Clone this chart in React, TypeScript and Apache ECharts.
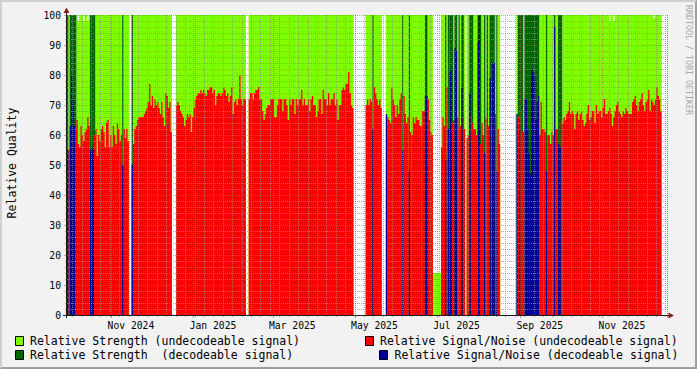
import React, { useEffect, useRef } from "react";
import * as echarts from "echarts";

const _ = null;

// one category per day, starting 2024-09-29
const DAY_COUNT = 446;
const categories: string[] = [];
{
  const t0 = Date.UTC(2024, 8, 29);
  for (let i = 0; i < DAY_COUNT; i++) {
    categories.push(new Date(t0 + i * 86400000).toISOString().slice(0, 10));
  }
}

const MONTH_NAMES = ["Jan", "Feb", "Mar", "Apr", "May", "Jun", "Jul", "Aug", "Sep", "Oct", "Nov", "Dec"];
const LABEL_MONTHS = [1, 3, 5, 7, 9, 11];
const Y_TICKS = [0, 10, 20, 30, 40, 50, 60, 70, 80, 90, 100];

const LEGEND_LABELS = [
  "Relative Strength (undecodeable signal)",
  "Relative Signal/Noise (undecodeable signal)",
  "Relative Strength  (decodeable signal)",
  "Relative Signal/Noise (decodeable signal)",
];

// Relative Strength (undecodeable signal), per day
const strengthUndecodeable: (number | null)[] = [
  _, 100, _, _, _, _, _, 100, 98, 100,
  100, 100, 98, 100, 100, 98, 100, _, _, _,
  _, 100, 100, 100, 100, 100, 100, 100, 100, 100,
  100, 100, 100, 100, 100, 100, 100, 100, 100, 100,
  100, _, 100, 100, 100, 100, _, _, _, 100,
  100, 100, 100, 100, 100, 100, 100, 100, 100, 100,
  100, 100, 100, 100, 100, 100, 100, 100, 100, 100,
  100, 100, 100, 100, 100, 100, 100, 100, _, _,
  _, 100, 100, 100, 100, 100, 100, 100, 100, 100,
  100, 100, 100, 100, 100, 100, 100, 100, 100, 100,
  100, 100, 100, 100, 100, 100, 100, 100, 100, 100,
  100, 100, 100, 100, 100, 100, 100, 100, 100, 100,
  100, 100, 100, 100, 100, 100, 100, 100, 100, 100,
  100, 100, 100, _, _, 100, 100, 100, 100, 100,
  100, 100, 100, 100, 100, 100, 100, 100, 100, 100,
  100, 100, 100, 100, 100, 100, 100, 100, 100, 100,
  100, 100, 100, 100, 100, 100, 100, 100, 100, 100,
  100, 100, 100, 100, 100, 100, 100, 100, 100, 100,
  100, 100, 100, 100, 100, 100, 100, 100, 100, 100,
  100, 100, 100, 100, 100, 100, 100, 100, 100, 100,
  100, 100, 100, 100, 100, 100, 100, 100, 100, 100,
  100, 100, 100, _, _, _, _, _, _, _,
  _, _, 100, 100, 100, 100, 100, _, 100, 100,
  100, 100, 100, 100, _, _, _, 100, 100, 100,
  100, 100, 100, 100, 100, 100, 100, 100, 100, _,
  100, 100, 100, 100, _, 100, 100, 100, 100, 100,
  100, 100, 100, 100, 100, 100, _, _, 100, 100,
  100, 100, 14, 14, 14, 14, 14, 14, 100, 100,
  100, _, 100, _, _, _, _, 100, _, _,
  100, _, 100, _, _, 100, _, 100, 100, _,
  _, _, 100, 100, 100, _, _, _, 100, 100,
  _, 100, _, 100, _, _, _, _, 100, _,
  100, 100, _, _, _, _, _, _, _, _,
  _, _, _, _, 100, _, _, _, _, 100,
  _, _, _, _, _, _, _, _, _, _,
  _, 100, 100, 100, 100, 100, _, 100, 100, 100,
  100, 100, _, 100, 100, _, _, _, 100, 100,
  100, 100, 100, 100, 100, 100, 100, 100, 100, 100,
  100, 100, 100, 100, 100, 100, 100, 100, 100, 100,
  100, 100, 100, 100, 100, 100, 100, 100, 100, 100,
  100, 100, 100, 98, 100, 100, 98, 100, 100, 100,
  100, 100, 100, 100, 100, 100, 100, 100, 100, 100,
  100, 100, 100, 100, 100, 100, 100, 100, 100, 100,
  100, 100, 100, 100, 100, 100, 99, 100, 100, 100,
  100, 100, _, _, _, _,
];

// Relative Strength (decodeable signal), per day
const strengthDecodeable: (number | null)[] = [
  100, _, 100, 100, 100, 100, 100, _, _, _,
  _, _, _, _, _, _, _, 100, 100, 100,
  100, _, _, _, _, _, _, _, _, _,
  _, _, _, _, _, _, _, _, _, _,
  _, 100, _, _, _, _, _, _, 100, _,
  _, _, _, _, _, _, _, _, _, _,
  _, _, _, _, _, _, _, _, _, _,
  _, _, _, _, _, _, _, _, _, _,
  _, _, _, _, _, _, _, _, _, _,
  _, _, _, _, _, _, _, _, _, _,
  _, _, _, _, _, _, _, _, _, _,
  _, _, _, _, _, _, _, _, _, _,
  _, _, _, _, _, _, _, _, _, _,
  _, _, _, _, _, _, _, _, _, _,
  _, _, _, _, _, _, _, _, _, _,
  _, _, _, _, _, _, _, _, _, _,
  _, _, _, _, _, _, _, _, _, _,
  _, _, _, _, _, _, _, _, _, _,
  _, _, _, _, _, _, _, _, _, _,
  _, _, _, _, _, _, _, _, _, _,
  _, _, _, _, _, _, _, _, _, _,
  _, _, _, _, _, _, _, _, _, _,
  _, _, _, _, _, _, _, 100, _, _,
  _, _, _, _, _, _, _, _, _, _,
  _, _, _, _, _, _, _, _, _, 100,
  _, _, _, _, 100, _, _, _, _, _,
  _, _, _, _, _, _, 100, 100, _, _,
  _, _, _, _, _, _, _, _, _, _,
  _, 100, _, 100, 100, 100, 100, _, 100, 100,
  _, 100, _, 100, 100, _, _, _, _, 100,
  100, 100, _, _, _, 100, 100, 100, _, _,
  100, _, 100, _, 100, 100, 100, 100, _, 100,
  _, _, _, _, _, _, _, _, _, _,
  _, _, _, _, _, 100, 100, 100, 100, _,
  100, 100, 100, 100, 100, 100, 100, 100, 100, 100,
  100, _, _, _, _, _, 100, _, _, _,
  _, _, 100, _, _, 100, 100, 100, _, _,
  _, _, _, _, _, _, _, _, _, _,
  _, _, _, _, _, _, _, _, _, _,
  _, _, _, _, _, _, _, _, _, _,
  _, _, _, _, _, _, _, _, _, _,
  _, _, _, _, _, _, _, _, _, _,
  _, _, _, _, _, _, _, _, _, _,
  _, _, _, _, _, _, _, _, _, _,
  _, _, _, _, _, _,
];

// Relative Signal/Noise (undecodeable signal), per day
const snrUndecodeable: (number | null)[] = [
  _, 55, _, _, _, _, 62, 65, 57, 56,
  63, 60, 58, 61, 62, 66, 63, _, _, _,
  60, 62, 53, 60, 58, 62, 63, 61, 56, 64,
  65, 56, 60, 56, 63, 60, 57, 64, 62, 58,
  60, _, 62, 59, 62, 58, _, _, _, 57,
  62, 63, 65, 66, 66, 66, 66, 67, 68, 69,
  71, 77, 70, 73, 69, 72, 70, 71, 69, 67,
  71, 66, 63, 74, 73, 69, 71, 61, _, _,
  _, 70, 71, 70, 68, 67, 66, 63, 65, 67,
  66, 67, 61, 66, 69, 72, 73, 74, 74, 75,
  74, 75, 74, 73, 75, 75, 76, 76, 74, 75,
  70, 73, 74, 74, 73, 74, 76, 75, 73, 74,
  71, 73, 76, 67, 71, 72, 70, 72, 80, 72,
  70, 72, 72, _, _, 72, 74, 74, 72, 74,
  75, 75, 76, 72, 72, 68, 65, 67, 69, 70,
  70, 72, 72, 72, 66, 66, 70, 72, 72, 72,
  68, 72, 72, 70, 65, 72, 70, 72, 72, 67,
  72, 70, 72, 72, 75, 70, 72, 70, 70, 72,
  68, 72, 73, 70, 70, 66, 68, 72, 72, 67,
  75, 72, 72, 70, 74, 70, 72, 72, 74, 70,
  72, 65, 70, 70, 75, 76, 75, 77, 77, 81,
  74, 70, 69, _, _, _, _, _, _, _,
  _, _, 70, 72, 70, 72, 71, _, 76, 74,
  72, 70, 72, 69, _, _, _, _, 66, 65,
  64, 76, 72, 70, 66, 70, 67, 72, 74, _,
  73, 67, 64, 66, _, 61, 60, 66, 64, 66,
  65, 65, 63, 63, 68, 68, _, _, 72, 65,
  61, 60, _, _, _, _, _, _, 56, 66,
  63, _, 76, _, _, _, 64, 65, _, _,
  66, 62, 63, _, 66, 62, _, 59, 60, _,
  67, 64, 62, 62, 60, _, _, 57, 64, 60,
  _, 66, 62, 63, _, 66, _, _, 67, _,
  62, 57, _, _, _, _, _, _, _, _,
  _, _, _, _, _, 66, _, 62, 61, 61,
  _, _, _, _, _, _, _, _, _, _,
  _, 60, 71, 62, 62, 61, _, 60, 60, 57,
  61, 60, _, 62, 62, _, _, 65, 64, 66,
  65, 67, 68, 71, 67, 68, 67, 62, 67, 68,
  65, 67, 68, 65, 63, 64, 67, 70, 65, 66,
  68, 68, 64, 70, 67, 68, 68, 66, 69, 72,
  67, 67, 68, 69, 67, 63, 66, 68, 70, 71,
  68, 67, 66, 68, 67, 69, 68, 67, 67, 67,
  71, 72, 73, 70, 68, 71, 72, 74, 70, 68,
  71, 72, 75, 68, 72, 71, 70, 72, 76, 73,
  72, 68, _, _, _, _,
];

// Relative Signal/Noise (decodeable signal), per day
const snrDecodeable: (number | null)[] = [
  55, _, 63, 80, 72, 63, _, _, _, _,
  _, _, _, _, _, _, _, 55, 56, 55,
  _, _, _, _, _, _, _, _, _, _,
  _, _, _, _, _, _, _, _, _, _,
  _, 50, _, _, _, _, _, _, 50, _,
  _, _, _, _, _, _, _, _, _, _,
  _, _, _, _, _, _, _, _, _, _,
  _, _, _, _, _, _, _, _, _, _,
  _, _, _, _, _, _, _, _, _, _,
  _, _, _, _, _, _, _, _, _, _,
  _, _, _, _, _, _, _, _, _, _,
  _, _, _, _, _, _, _, _, _, _,
  _, _, _, _, _, _, _, _, _, _,
  _, _, _, _, _, _, _, _, _, _,
  _, _, _, _, _, _, _, _, _, _,
  _, _, _, _, _, _, _, _, _, _,
  _, _, _, _, _, _, _, _, _, _,
  _, _, _, _, _, _, _, _, _, _,
  _, _, _, _, _, _, _, _, _, _,
  _, _, _, _, _, _, _, _, _, _,
  _, _, _, _, _, _, _, _, _, _,
  _, _, _, _, _, _, _, _, _, _,
  _, _, _, _, _, _, _, 62, _, _,
  _, _, _, _, _, _, _, 67, _, _,
  _, _, _, _, _, _, _, _, _, 55,
  _, _, _, _, 48, _, _, _, _, _,
  _, _, _, _, _, _, 73, 73, _, _,
  _, _, _, _, _, _, _, _, _, _,
  _, 52, _, 62, 81, 82, _, _, 89, 88,
  _, _, _, 76, _, _, _, _, _, 74,
  _, _, _, _, _, 91, 100, _, _, _,
  54, _, _, _, 79, _, 84, 84, _, 48,
  _, _, _, _, _, _, _, _, _, _,
  _, _, _, _, 67, _, 62, _, _, _,
  72, 72, 62, 54, 47, 82, 81, 80, 65, 71,
  73, _, _, _, _, _, 48, _, _, _,
  _, _, 96, _, _, 57, 56, _, _, _,
  _, _, _, _, _, _, _, _, _, _,
  _, _, _, _, _, _, _, _, _, _,
  _, _, _, _, _, _, _, _, _, _,
  _, _, _, _, _, _, _, _, _, _,
  _, _, _, _, _, _, _, _, _, _,
  _, _, _, _, _, _, _, _, _, _,
  _, _, _, _, _, _, _, _, _, _,
  _, _, _, _, _, _,
];

const COLORS = {
  strengthU: "#80FF00",
  snrU: "#FF0000",
  strengthD: "#006600",
  snrD: "#000099",
};

const FONT = "DejaVu Sans Mono";
const GRID_MINOR = "rgba(143,143,143,0.75)";
const GRID_MAJOR = "rgba(222,79,79,0.6)";

// each day becomes a flat step [d, d+1]; missing days break the area
function stepPoints(vals: (number | null)[]) {
  const pts: any[] = [];
  vals.forEach((v, d) => {
    if (v == null) pts.push([d + 0.5, "-"]);
    else pts.push([d, v], [d + 1, v]);
  });
  return pts;
}

function parts(value: string) {
  const [y, m, d] = value.split("-").map(Number);
  return { y, m, d };
}
const isMajor = (_i: number, value: string) => {
  const p = parts(value);
  return p.d === 1 && LABEL_MONTHS.includes(p.m);
};
const isLabel = (_i: number, value: string) => {
  const p = parts(value);
  return p.d === 15 && LABEL_MONTHS.includes(p.m);
};
const isWeek = (_i: number, value: string) =>
  new Date(value + "T00:00:00Z").getUTCDay() === 4;

function areaSeries(name: string, vals: (number | null)[], color: string) {
  return {
    name,
    type: "line",
    xAxisIndex: 0,
    yAxisIndex: 0,
    data: stepPoints(vals),
    showSymbol: false,
    symbol: "none",
    connectNulls: false,
    silent: true,
    lineStyle: { width: 0, opacity: 0 },
    areaStyle: { color, opacity: 1, origin: "start" },
    z: 2,
  };
}

export default function App() {
  const ref = useRef<HTMLDivElement>(null);

  useEffect(() => {
    if (!ref.current) return;
    const chart = echarts.init(ref.current, undefined, { renderer: "svg" });

    const legendItems = [
      { label: LEGEND_LABELS[0], color: COLORS.strengthU, bx: 15.5, by: 336.5, tx: 30, ty: 341 },
      { label: LEGEND_LABELS[1], color: COLORS.snrU, bx: 365.5, by: 336.5, tx: 380, ty: 341 },
      { label: LEGEND_LABELS[2], color: COLORS.strengthD, bx: 15.5, by: 350.5, tx: 30, ty: 355 },
      { label: LEGEND_LABELS[3], color: COLORS.snrD, bx: 379.5, by: 350.5, tx: 394.5, ty: 355 },
    ];

    const graphics: any[] = [
      // 3D border
      { type: "polygon", z: 20, shape: { points: [[0, 369], [2, 367], [2, 2], [695, 2], [697, 0], [0, 0]] }, style: { fill: "#CFCFCF" } },
      { type: "polygon", z: 20, shape: { points: [[2, 367], [695, 367], [695, 2], [697, 0], [697, 369], [0, 369]] }, style: { fill: "#9E9E9E" } },
      // axes
      { type: "line", z: 20, shape: { x1: 63, y1: 315.5, x2: 669, y2: 315.5 }, style: { stroke: "#1F1F1F", lineWidth: 1 } },
      { type: "line", z: 20, shape: { x1: 66.5, y1: 318, x2: 66.5, y2: 11 }, style: { stroke: "#1F1F1F", lineWidth: 1 } },
      { type: "polygon", z: 21, shape: { points: [[63.5, 13], [69.5, 13], [66.5, 7.5]] }, style: { fill: "#801F1F" } },
      { type: "polygon", z: 21, shape: { points: [[668.5, 312.5], [668.5, 318.5], [674, 315.5]] }, style: { fill: "#801F1F" } },
      // titles
      {
        type: "text", z: 20, x: 12, y: 163, rotation: Math.PI / 2,
        style: { text: "Relative Quality", font: `11.5px "${FONT}"`, fill: "#000", align: "center", verticalAlign: "middle" },
      },
      {
        type: "text", z: 20, x: 693, y: 5, rotation: -Math.PI / 2,
        style: { text: "RRDTOOL / TOBI OETIKER", font: `8.3px "${FONT}"`, fill: "#A8A8A8", align: "left", verticalAlign: "top" },
      },
    ];
    legendItems.forEach((it) => {
      graphics.push({
        type: "rect", z: 20,
        shape: { x: it.bx, y: it.by, width: 8, height: 9 },
        style: { fill: it.color, stroke: "#000", lineWidth: 1 },
      });
      graphics.push({
        type: "text", z: 20, x: it.tx, y: it.ty,
        style: { text: it.label, font: `11.5px "${FONT}"`, fill: "#000", align: "left", verticalAlign: "middle" },
      });
    });

    chart.setOption({
      animation: false,
      backgroundColor: "#F2F2F2",
      grid: { left: 67, top: 15, width: 600, height: 300, show: true, backgroundColor: "#FFFFFF", borderWidth: 0 },
      xAxis: [
        { type: "value", min: 0, max: DAY_COUNT, show: false },
        {
          type: "category", data: categories, boundaryGap: true, position: "bottom", z: 5,
          axisLine: { show: false },
          axisTick: { show: true, interval: isWeek, length: 2, lineStyle: { color: GRID_MINOR } },
          axisLabel: { show: false },
          splitLine: { show: true, interval: isWeek, lineStyle: { color: GRID_MINOR, type: [1, 1], width: 1 } },
        },
        {
          type: "category", data: categories, boundaryGap: true, position: "bottom", z: 6,
          axisLine: { show: false },
          axisTick: { show: true, interval: isMajor, length: 3, lineStyle: { color: GRID_MAJOR } },
          axisLabel: {
            interval: isLabel,
            margin: 5,
            fontFamily: FONT,
            fontSize: 9.7,
            color: "#000",
            formatter: (v: string) => {
              const p = parts(v);
              return `${MONTH_NAMES[p.m - 1]} ${p.y}`;
            },
          },
          splitLine: { show: true, interval: isMajor, lineStyle: { color: GRID_MAJOR, type: [1, 1], width: 1 } },
        },
      ],
      yAxis: {
        type: "value", min: Y_TICKS[0], max: Y_TICKS[Y_TICKS.length - 1], interval: 10, z: 5,
        axisLine: { show: false },
        axisTick: { show: true, length: 3, lineStyle: { color: GRID_MAJOR } },
        minorTick: { show: true, splitNumber: 5, length: 2, lineStyle: { color: GRID_MINOR } },
        axisLabel: { margin: 6, fontFamily: FONT, fontSize: 9.7, color: "#000" },
        splitLine: { show: true, lineStyle: { color: GRID_MAJOR, type: [1, 1], width: 1 } },
        minorSplitLine: { show: true, lineStyle: { color: GRID_MINOR, type: [1, 1], width: 1 } },
      },
      series: [
        areaSeries(LEGEND_LABELS[0], strengthUndecodeable, COLORS.strengthU),
        areaSeries(LEGEND_LABELS[2], strengthDecodeable, COLORS.strengthD),
        areaSeries(LEGEND_LABELS[1], snrUndecodeable, COLORS.snrU),
        areaSeries(LEGEND_LABELS[3], snrDecodeable, COLORS.snrD),
      ],
      graphic: graphics,
    });

    return () => chart.dispose();
  }, []);

  return (
    <div
      ref={ref}
      style={{ position: "absolute", left: 0, top: 0, width: 697, height: 369 }}
    />
  );
}
